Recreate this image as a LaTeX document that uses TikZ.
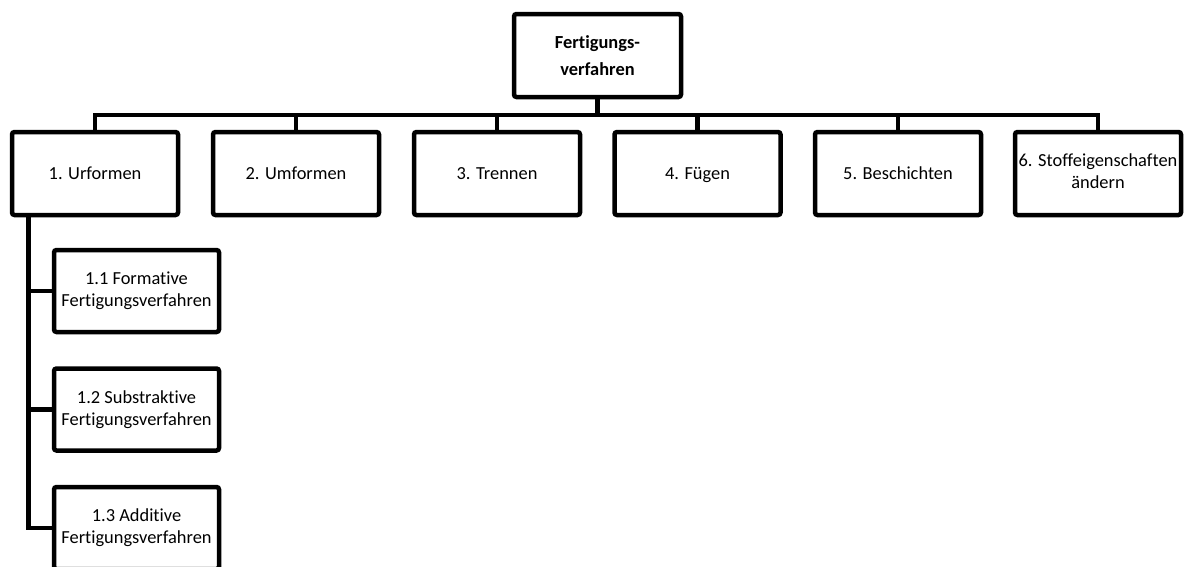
\documentclass[tikz,border=0pt]{standalone}
\usepackage{fontspec}
\setmainfont{Carlito}[Ligatures=NoCommon]
\begin{document}
\begin{tikzpicture}[x=1pt,y=-1pt,
  conn/.style={line width=4.5pt,line cap=rect},
  boxstyle/.style={draw,line width=4.5pt,rounded corners=2.5pt,inner sep=0pt,outer sep=0pt,
    minimum width=166pt,minimum height=83pt,align=center,
    font=\fontsize{18.4}{22}\selectfont},
  onel/.style={boxstyle,text height=11.8pt,text depth=0pt},
  topbox/.style={boxstyle,minimum width=167pt,
    font=\fontsize{18.4}{27}\selectfont\bfseries},
  txt/.style={inner sep=0pt,align=center,font=\fontsize{18.4}{22}\selectfont}]
\useasboundingbox (0,0) rectangle (1184,566);
% top
\node[topbox] (top) at (597.5,55.5) {Fertigungs-\\verfahren};
% level 1
\node[onel] (b1) at (95,173.5) {1. Urformen};
\node[onel] (b2) at (296,173.5) {2. Umformen};
\node[onel] (b3) at (497,173.5) {3. Trennen};
\node[onel] (b4) at (697.5,173.5) {4. Fügen};
\node[onel] (b5) at (898,173.5) {5. Beschichten};
\node[boxstyle] (b6) at (1098,173.5) {};
\node[txt] (b6t) at (1098,171) {6. Stoffeigenschaften\\ändern};
% level 2
\node[boxstyle,minimum width=165pt,minimum height=82pt] (s1) at (136.5,291) {1.1 Formative\\Fertigungsverfahren};
\node[boxstyle,minimum width=165pt,minimum height=82pt] (s2) at (136.5,409.5) {1.2 Substraktive\\Fertigungsverfahren};
\node[boxstyle,minimum width=165pt,minimum height=82pt] (s3) at (136.5,528) {1.3 Additive\\Fertigungsverfahren};
% connectors top
\coordinate (bar) at (597.5,115);
\draw[conn] (top.south) -- (bar);
\foreach \b in {b1,b2,b3,b4,b5,b6}{
  \draw[conn,line cap=butt] (bar) -| (\b.north);
}
\draw[conn] (bar -| b1.north) -- (bar -| b6.north);
% connectors sub
\coordinate (trunk) at (28.5,215);
\draw[conn,line cap=butt] (trunk) |- (s3.west);
\draw[conn,line cap=butt] (trunk |- s1.west) -- (s1.west);
\draw[conn,line cap=butt] (trunk |- s2.west) -- (s2.west);
\end{tikzpicture}
\end{document}
